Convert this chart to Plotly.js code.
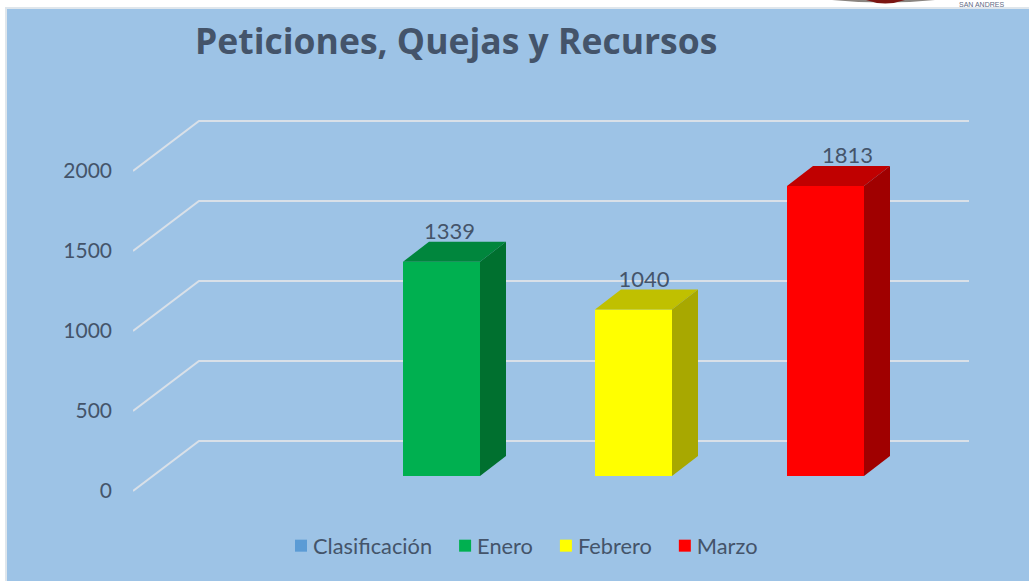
<!DOCTYPE html>
<html><head><meta charset="utf-8">
<script src="https://cdn.plot.ly/plotly-3.0.1.min.js"></script>
<style>html,body{margin:0;padding:0;background:#fff;overflow:hidden}#c{width:1029px;height:581px}</style>
</head><body><div id="c"></div>
<script>
const titleText = 'Peticiones, Quejas y Recursos';
const months = ['Enero', 'Febrero', 'Marzo'];
const monthPositions = [1, 2, 3];
const values = [1339, 1040, 1813];
const frontColors = ['#00b050', '#ffff00', '#ff0000'];
const topColors = ['#00863d', '#c0c000', '#c00000'];
const sideColors = ['#00702f', '#a8a800', '#a00000'];
const labelShiftPx = [8, 10.5, 22];
const emptySeries = 'Clasificación';
const emptyValues = [0];
const emptyColor = '#5b9bd5';
const axisTicks = [0, 500, 1000, 1500, 2000];
const textColor = '#44546a';
const gridColor = '#d9e0e8';

// Projection constants of the fake 3D box
const W = 1029, H = 581;
const L = 133, R = 969, T = 60, B = 520, Y0 = 491;
const pxPerUnit = 0.16, pxPerCat = 192, firstCenter = 441.5;
const xRange = [1 + (L - firstCenter) / pxPerCat, 1 + (R - firstCenter) / pxPerCat];
const yRange = [(Y0 - B) / pxPerUnit, (Y0 - T) / pxPerUnit];
const dxU = px => px / pxPerCat, dyU = px => px / pxPerUnit;
const wallDx = dxU(66), wallDy = dyU(50);
const barW = dxU(77), barDx = dxU(26), barDy = dyU(20), floorDy = dyU(15);
const paperX = x => (x - L) / (R - L);
const paperY = y => (B - y) / (B - T);

const traces = [];
traces.push({type:'bar', name: emptySeries, x:[monthPositions[0]], y:emptyValues, base:floorDy, width:barW,
  marker:{color:emptyColor, line:{width:0}}, hoverinfo:'skip'});
months.forEach((m,i)=>{
  traces.push({type:'bar', name:m, x:[monthPositions[i]], y:[values[i]], base:floorDy, width:barW,
    marker:{color:frontColors[i], line:{width:0}}, hoverinfo:'skip'});
});
months.forEach((m,i)=>{
  const xl = monthPositions[i]-barW/2, xr = monthPositions[i]+barW/2;
  const y0 = floorDy, y1 = floorDy+values[i];
  traces.push({type:'scatter', mode:'none', fill:'toself', fillcolor:topColors[i], showlegend:false, hoverinfo:'skip',
    x:[xl, xr, xr+barDx, xl+barDx, xl], y:[y1, y1, y1+barDy, y1+barDy, y1]});
  traces.push({type:'scatter', mode:'none', fill:'toself', fillcolor:sideColors[i], showlegend:false, hoverinfo:'skip',
    x:[xr, xr+barDx, xr+barDx, xr, xr], y:[y0, y0+barDy, y1+barDy, y1, y0]});
});
traces.push({type:'scatter', mode:'text', showlegend:false, hoverinfo:'skip', cliponaxis:false,
  x:monthPositions.map((p,i)=>p+dxU(labelShiftPx[i])), y:values.map(v=>v+floorDy+barDy-dyU(3)),
  text:values.map(String), textposition:'top center',
  textfont:{family:'Lato, sans-serif', size:22, color:textColor}});

const shapes = [];
shapes.push({type:'rect', xref:'paper', yref:'paper', layer:'below',
  x0:paperX(6), x1:paperX(1036), y0:paperY(590), y1:paperY(8),
  fillcolor:'#9dc3e6', line:{color:'#dfe6ec', width:2}});
shapes.push({type:'path', xref:'paper', yref:'paper', layer:'below',
  path:`M ${paperX(832)} ${paperY(0)} L ${paperX(935)} ${paperY(0)} Q ${paperX(885)} ${paperY(5)} ${paperX(832)} ${paperY(0)} Z`,
  fillcolor:'#8a8580', line:{width:0}});
shapes.push({type:'path', xref:'paper', yref:'paper', layer:'below',
  path:`M ${paperX(866)} ${paperY(0)} L ${paperX(905)} ${paperY(0)} Q ${paperX(885)} ${paperY(7)} ${paperX(866)} ${paperY(0)} Z`,
  fillcolor:'#7a1512', line:{width:0}});
axisTicks.forEach(t=>{
  shapes.push({type:'path', layer:'below', xref:'x', yref:'y',
    path:`M ${xRange[0]} ${t} L ${xRange[0]+wallDx} ${t+wallDy} L ${xRange[1]} ${t+wallDy}`,
    line:{color:gridColor, width:2}});
});

const layout = {
  width:W, height:H, margin:{l:L, r:W-R, t:T, b:H-B, pad:0},
  paper_bgcolor:'#ffffff', plot_bgcolor:'rgba(0,0,0,0)',
  barmode:'overlay', showlegend:true, hovermode:false,
  font:{family:'Lato, sans-serif', color:textColor},
  title:{text:titleText, xref:'container', yref:'container', x:195/W, xanchor:'left', y:1-42/H, yanchor:'middle',
    font:{family:'Open Sans, sans-serif', size:35.5, weight:700, color:textColor}},
  xaxis:{range:xRange, visible:false, fixedrange:true},
  yaxis:{range:yRange, tickmode:'array', tickvals:axisTicks, ticktext:axisTicks.map(String),
    showgrid:false, zeroline:false, showline:false, ticks:'', ticklabelstandoff:20,
    tickfont:{family:'Lato, sans-serif', size:21, color:textColor}, fixedrange:true},
  legend:{orientation:'h', x:paperX(273), xanchor:'left', y:paperY(525), yanchor:'top',
    traceorder:'normal', bgcolor:'rgba(0,0,0,0)', font:{family:'Lato, sans-serif', size:21.8, color:textColor}, itemclick:false, itemdoubleclick:false},
  shapes:shapes,
  annotations:[{xref:'paper', yref:'paper', x:paperX(958), y:paperY(4), xanchor:'left', yanchor:'middle', showarrow:false, borderpad:0,
    text:'SAN ANDRES', font:{family:'Liberation Sans, sans-serif', size:7, color:'#5f6b85'}}]
};
Plotly.newPlot('c', traces, layout, {displayModeBar:false, staticPlot:true}).then(gd=>{
  gd.querySelectorAll('.legend .legendpoints').forEach(n=>n.setAttribute('transform','translate(8,0)'));
});
</script></body></html>
